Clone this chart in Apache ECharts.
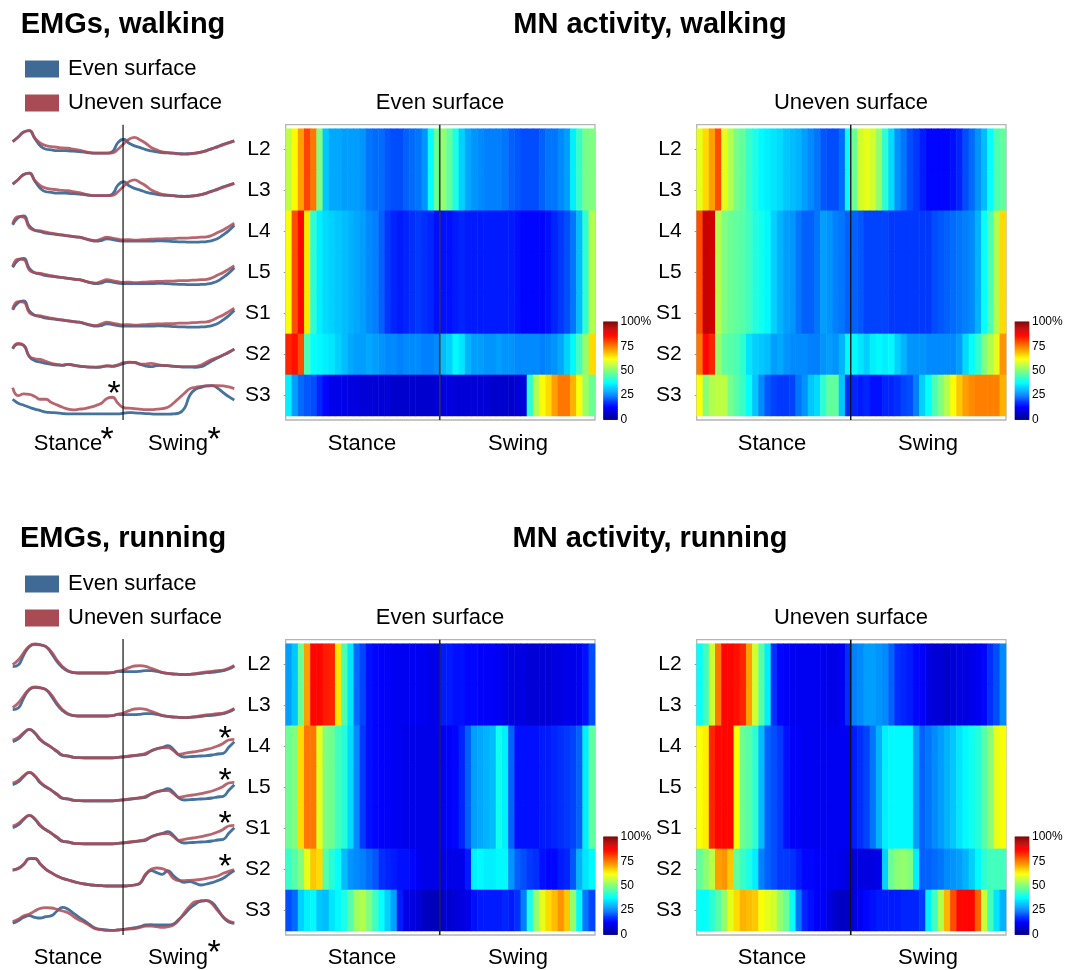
<!DOCTYPE html>
<html><head><meta charset="utf-8">
<style>html,body{margin:0;padding:0;background:#fff}#c{width:1073px;height:970px;filter:blur(0.55px)}</style>
<script src="https://cdn.jsdelivr.net/npm/echarts@6/dist/echarts.min.js"></script>
</head><body><div id="c"></div>
<script>
const rowLabels = ['L2','L3','L4','L5','S1','S2','S3'];
const gaitCycle = [0,2.5,5,7.5,10,12.5,15,17.5,20,22.5,25,27.5,30,32.5,35,37.5,40,42.5,45,47.5,50,52.5,55,57.5,60,62.5,65,67.5,70,72.5,75,77.5,80,82.5,85,87.5,90,92.5,95,97.5,100];
const heatColumns = [1,3,5,7,9,11,13,15,17,19,21,23,25,27,29,31,33,35,37,39,41,43,45,47,49,51,53,55,57,59,61,63,65,67,69,71,73,75,77,79,81,83,85,87,89,91,93,95,97,99];

// EMG envelopes (arbitrary amplitude units)
const emgWalkEvenL2 = [75,89,104,108,84,62,52,50,48,48,47,46,45,43,41,40,40,40,45,72,82,70,62,57,51,47,44,42,41,40,39,38,39,40,43,48,54,60,67,72,77];
const emgWalkUnevenL2 = [75,89,104,108,86,70,63,60,58,56,55,52,49,45,42,40,40,40,41,52,68,82,88,80,70,57,50,44,42,40,38,37,38,40,43,48,54,59,65,71,77];
const emgWalkEvenL4 = [80,102,107,77,64,60,55,53,51,49,47,45,43,39,34,31,33,38,36,33,31,31,31,31,31,31,32,32,31,30,29,29,28,28,29,30,33,39,50,63,79];
const emgWalkUnevenL4 = [83,105,103,72,64,62,58,55,52,50,47,45,43,39,35,33,38,43,40,37,35,36,34,35,36,37,38,38,39,39,40,40,41,42,43,44,49,57,65,75,85];
const emgWalkEvenS2 = [91,105,101,67,55,51,47,44,42,41,44,42,39,37,36,35,36,39,38,41,46,50,50,44,39,37,40,41,40,39,37,36,36,35,37,45,55,64,72,80,90];
const emgWalkUnevenS2 = [93,107,101,69,61,59,53,47,44,42,44,41,39,37,36,36,37,40,39,43,49,51,49,45,45,47,44,41,40,38,37,37,37,38,42,51,59,65,72,81,90];
const emgWalkEvenS3 = [67,55,49,43,37,33,28,27,26,24,23,23,23,23,23,23,23,23,23,23,25,27,26,25,24,23,22,22,22,23,25,40,80,97,103,107,108,100,87,75,65];
const emgWalkUnevenS3 = [102,78,83,82,75,67,67,57,50,43,37,35,37,39,43,48,55,69,73,55,42,40,39,37,36,36,37,39,43,55,70,85,99,103,106,107,108,108,107,104,99];
const emgRunEvenL2 = [49,54,84,109,116,114,109,89,64,46,35,31,30,30,30,30,30,30,31,35,34,34,34,35,37,37,35,31,29,27,26,25,26,27,29,31,32,34,37,42,51];
const emgRunUnevenL2 = [55,69,91,111,117,115,109,93,69,49,37,32,30,30,30,30,30,30,31,36,39,46,51,52,50,44,38,32,29,27,26,25,26,28,31,33,35,37,39,44,53];
const emgRunEvenL4 = [82,90,107,119,107,87,75,65,52,41,39,35,34,33,33,33,33,33,33,35,36,38,40,42,44,55,61,64,70,59,42,36,37,38,39,40,42,45,47,65,82];
const emgRunUnevenL4 = [87,95,109,119,109,89,76,65,54,42,39,35,34,34,34,34,34,34,34,35,37,39,41,43,47,54,60,64,64,55,44,47,50,52,55,59,63,69,77,87,89];
const emgRunEvenS2 = [84,89,101,118,118,101,86,76,66,59,54,49,45,42,39,38,37,36,36,36,36,37,39,44,69,82,76,71,82,67,54,47,49,44,39,42,46,52,59,71,82];
const emgRunUnevenS2 = [84,88,102,118,119,102,86,75,66,59,54,49,45,42,40,38,37,36,36,36,36,37,39,46,72,86,90,88,79,59,52,52,53,54,56,59,62,66,74,80,84];
const emgRunEvenS3 = [53,61,71,76,71,69,73,76,90,101,95,83,71,60,48,38,35,33,32,33,35,37,40,43,48,49,48,48,48,51,65,80,98,111,120,121,115,95,71,57,53];
const emgRunUnevenS3 = [58,65,76,81,90,98,100,99,95,90,85,73,63,55,45,36,34,32,32,33,35,36,37,41,45,45,43,41,43,48,63,85,105,118,120,121,111,91,73,60,55];

// MN activity (% of maximum)
const mnWalkEvenL2 = [56,63,72,81,76,50,32,29,29,28,28,28,27,24,23,23,21,20,20,22,23,24,27,38,48,52,47,40,33,29,27,26,25,25,25,24,22,21,20,20,20,22,24,24,26,28,36,43,49,50];
const mnWalkEvenL4 = [62,80,87,65,42,36,34,33,32,31,30,29,28,26,25,22,18,16,15,16,17,18,17,16,14,14,14,15,16,15,15,15,15,15,15,15,15,14,13,13,13,13,14,16,18,20,24,31,42,55];
const mnWalkEvenS2 = [84,86,80,45,38,37,36,35,33,31,29,28,28,29,28,27,26,26,25,26,26,26,25,25,26,31,33,37,35,30,28,28,27,27,28,27,27,26,26,26,26,25,26,27,29,33,37,44,52,66];
const mnWalkEvenS3 = [36,28,23,21,20,16,13,10,10,10,9,9,8,8,8,8,8,7,7,7,7,7,7,7,8,9,9,8,8,8,8,8,8,7,7,7,7,8,9,42,55,62,66,72,76,76,70,62,53,48];
const mnWalkUnevenL2 = [60,66,72,80,60,55,49,47,43,40,37,36,35,34,32,31,30,28,26,24,21,20,20,23,38,48,58,60,58,52,42,34,27,24,20,18,15,13,13,13,13,14,16,20,23,27,31,38,45,47];
const mnWalkUnevenL4 = [80,93,92,55,50,48,47,46,44,41,39,37,33,30,28,27,24,22,22,24,28,27,25,24,22,22,21,19,19,19,19,18,18,18,18,18,18,18,20,21,22,23,24,25,26,30,38,45,55,66];
const mnWalkUnevenS2 = [76,87,84,52,47,46,45,42,35,33,32,31,28,29,27,26,26,26,25,25,27,28,27,30,37,37,35,33,36,37,36,37,33,30,27,27,27,26,26,26,26,26,28,34,38,42,50,55,60,73];
const mnWalkUnevenS3 = [62,51,55,56,56,49,46,43,38,32,26,21,19,18,18,19,24,27,32,34,42,47,47,32,17,16,15,16,14,14,16,16,17,19,20,25,33,38,45,50,55,62,68,72,74,75,75,75,75,70];
const mnRunEvenL2 = [28,32,48,72,87,87,85,84,65,45,35,23,19,14,13,12,12,11,11,11,11,11,11,10,10,15,15,14,14,13,13,12,12,12,11,10,9,9,9,8,8,8,8,9,9,10,10,11,14,20];
const mnRunEvenL4 = [48,50,66,76,76,60,50,48,44,41,34,26,18,14,13,12,12,11,11,10,10,10,10,10,10,11,12,13,16,22,28,29,30,31,39,36,22,14,14,14,14,15,15,16,17,18,19,22,36,47];
const mnRunEvenS2 = [43,46,50,60,68,66,46,41,38,31,27,26,25,23,21,17,16,15,14,14,13,11,10,10,10,10,10,10,10,15,36,37,36,36,37,37,27,22,20,18,17,14,13,13,15,16,21,30,35,37];
const mnRunEvenS3 = [20,23,33,36,37,32,31,35,37,40,46,53,55,50,44,38,33,28,15,10,9,8,6,5,5,7,7,8,9,10,14,15,15,15,15,16,15,17,25,40,52,60,66,69,73,68,52,37,24,19];
const mnRunUnevenL2 = [38,44,58,76,87,87,86,84,72,58,46,36,17,13,12,11,11,11,11,11,11,10,10,11,17,25,26,28,28,27,26,22,17,16,15,13,12,9,8,8,7,8,9,9,10,11,13,17,20,26];
const mnRunUnevenL4 = [62,64,84,87,87,87,62,48,46,42,31,22,20,18,14,12,12,11,11,11,11,11,11,11,11,15,17,19,24,30,36,37,37,37,37,28,22,24,26,28,30,32,35,37,39,41,46,51,60,62];
const mnRunUnevenS2 = [47,51,56,72,73,68,47,43,40,36,25,22,20,18,18,17,15,13,13,12,12,11,11,10,9,8,9,9,9,10,33,48,51,52,50,36,22,22,23,24,26,27,28,30,33,37,42,44,44,44];
const mnRunUnevenS3 = [38,38,42,46,52,60,66,70,69,68,62,60,58,52,48,38,24,16,14,12,12,9,7,6,6,9,11,13,14,15,15,15,15,16,16,16,18,36,44,55,70,80,87,87,87,78,57,44,35,30];

const stanceSwingBoundary = 49.8;
const colorbarTicks = [0,25,50,75,100];
const jet = ['#00008f','#0000ff','#0080ff','#00ffff','#80ff80','#ffff00','#ff8000','#ff0000','#800000'];

const FONT = '"Liberation Sans", Arial, sans-serif';
const BLUE = '#44739f', RED = '#ab4a55';

const grid = [], xAxis = [], yAxis = [], series = [], title = [], legend = [];
let heatIdx = [];

function addAxes(gridDef, x, y){
  const i = grid.length;
  grid.push(gridDef);
  xAxis.push(Object.assign({gridIndex:i, show:false}, x));
  yAxis.push(Object.assign({gridIndex:i, show:false}, y));
  return i;
}
function frame(left, width, top, height, border, lineColor, lineW){
  const g = addAxes(
    {left, top, width, height, show:border, borderColor:'#b4b4b4', borderWidth:1.3, backgroundColor:'#fff'},
    {type:'value', min:0, max:100}, {type:'value', min:0, max:1});
  series.push({type:'line', xAxisIndex:g, yAxisIndex:g, silent:true, symbol:'none', z:6,
    lineStyle:{color:lineColor, width:lineW}, data:[[stanceSwingBoundary,0],[stanceSwingBoundary,1]]});
}
function emgPanel(top0, rowH, maxV, frameTop, frameH, sets){
  const rowSets = [0,0,1,1,1,2,3];
  rowLabels.forEach((r,i)=>{
    const g = addAxes(
      {left:12.7, width:221.6, top:top0 + rowH*i, height:rowH},
      {type:'category', data:gaitCycle, boundaryGap:false},
      {type:'value', min:0, max:maxV});
    const s = sets[rowSets[i]];
    series.push({name:'Even surface', type:'line', xAxisIndex:g, yAxisIndex:g, data:s[0], smooth:0.5, symbol:'none', silent:true,
      itemStyle:{color:'#3f6a95'}, lineStyle:{color:BLUE, width:2.8}, z:3});
    series.push({name:'Uneven surface', type:'line', xAxisIndex:g, yAxisIndex:g, data:s[1], smooth:0.5, symbol:'none', silent:true,
      itemStyle:{color:'#a84b55'}, lineStyle:{color:RED, width:2.8, opacity:0.85}, z:4});
  });
  frame(12.7, 221.6, frameTop, frameH, false, '#111', 1.2);
}
function heatPanel(left, frameTop, rows, lineColor, lineW, barLeft){
  const width = 309.3;
  frame(left, width, frameTop, 295.3, true, lineColor, lineW);
  const rowSets = [0,0,1,1,1,2,3];
  const g = addAxes({left, width, top:frameTop+4, height:287.3},
    {type:'category', data:heatColumns},
    {type:'category', data:rowLabels, inverse:true, show:true,
      axisLine:{show:false},
      axisTick:{show:true, length:2, alignWithLabel:true, lineStyle:{color:'#999'}},
      axisLabel:{fontSize:21, color:'#000', margin:15, fontFamily:FONT}});
  const data = [];
  rowLabels.forEach((r,ri)=>{
    rows[rowSets[ri]].forEach((v,ci)=>data.push([ci,ri,v]));
  });
  heatIdx.push(series.length);
  series.push({type:'heatmap', xAxisIndex:g, yAxisIndex:g, data, silent:true, z:2, progressive:0});
  // colour bar
  const levels = []; for(let v=0;v<=100;v++) levels.push(v);
  const b = addAxes({left:barLeft, width:14, top:frameTop+197, height:98},
    {type:'category', data:['scale']},
    {type:'category', data:levels, show:true, position:'right',
      axisLine:{show:false}, axisTick:{show:false},
      axisLabel:{fontSize:12, color:'#000', margin:3, fontFamily:FONT, padding:[0,0,3,0],
        interval:(idx)=>colorbarTicks.includes(idx),
        formatter:(v)=>Number(v)===100?'100%':String(v)}});
  heatIdx.push(series.length);
  series.push({type:'heatmap', xAxisIndex:b, yAxisIndex:b, silent:true, z:2, progressive:0,
    data:levels.map((v,i)=>[0,i,v])});
}
function txt(text, x, y, size, bold, align){
  title.push({text, left:x, top:y, padding:0, textAlign:align||'center', textVerticalAlign:'middle',
    textStyle:{fontFamily:FONT, fontSize:size, fontWeight:bold?'bold':'normal', color:'#000'}});
}

// Walking
emgPanel(124, 42.5, 128, 124.7, 295.3, [
  [emgWalkEvenL2, emgWalkUnevenL2],[emgWalkEvenL4, emgWalkUnevenL4],[emgWalkEvenS2, emgWalkUnevenS2],[emgWalkEvenS3, emgWalkUnevenS3]]);
heatPanel(285.7, 124.7, [mnWalkEvenL2,mnWalkEvenL4,mnWalkEvenS2,mnWalkEvenS3], '#333', 1.6, 603.5);
heatPanel(696.7, 124.7, [mnWalkUnevenL2,mnWalkUnevenL4,mnWalkUnevenS2,mnWalkUnevenS3], '#111', 1.4, 1015);
// Running
emgPanel(640, 43, 129, 639, 296, [
  [emgRunEvenL2, emgRunUnevenL2],[emgRunEvenL4, emgRunUnevenL4],[emgRunEvenS2, emgRunUnevenS2],[emgRunEvenS3, emgRunUnevenS3]]);
heatPanel(285.7, 639.7, [mnRunEvenL2,mnRunEvenL4,mnRunEvenS2,mnRunEvenS3], '#222', 1.6, 603.5);
heatPanel(696.7, 639.7, [mnRunUnevenL2,mnRunUnevenL4,mnRunUnevenS2,mnRunUnevenS3], '#111', 1.6, 1015);

// Text
txt('EMGs, walking', 123, 25, 29, true);
txt('MN activity, walking', 650, 25, 29, true);
txt('EMGs, running', 123, 539, 29, true);
txt('MN activity, running', 650, 539, 29, true);
[[103,444],[618,958]].forEach(([sub,xl])=>{
  txt('Even surface', 440, sub, 22);
  txt('Uneven surface', 851, sub, 22);
  txt('Stance', 362, xl, 22);
  txt('Swing', 518, xl, 22);
  txt('Stance', 772, xl, 22);
  txt('Swing', 928, xl, 22);
  txt('Stance', 68, xl, 22);
  txt('Swing', 178, xl, 22);
});
const STAR = 34, SO = 6;
[[107,435],[214,435],[114,389],[214,948],[225,734],[225,776],[225,819],[225,862]].forEach(([x,y])=>txt('*',x,y+SO,STAR));

[58,573].forEach(top=>legend.push({
  left:25, top, orient:'vertical', itemWidth:34, itemHeight:17, itemGap:12, icon:'rect', selectedMode:false,
  padding:0, data:['Even surface','Uneven surface'],
  textStyle:{fontSize:22, color:'#000', fontFamily:FONT, padding:[0,0,0,4]}
}));

const chart = echarts.init(document.getElementById('c'), null, {renderer:'canvas'});
chart.setOption({
  animation:false, backgroundColor:'#fff',
  title, legend, grid, xAxis, yAxis, series,
  visualMap:{show:false, type:'continuous', min:0, max:100, dimension:2, seriesIndex:heatIdx, inRange:{color:jet}}
});
</script></body></html>
